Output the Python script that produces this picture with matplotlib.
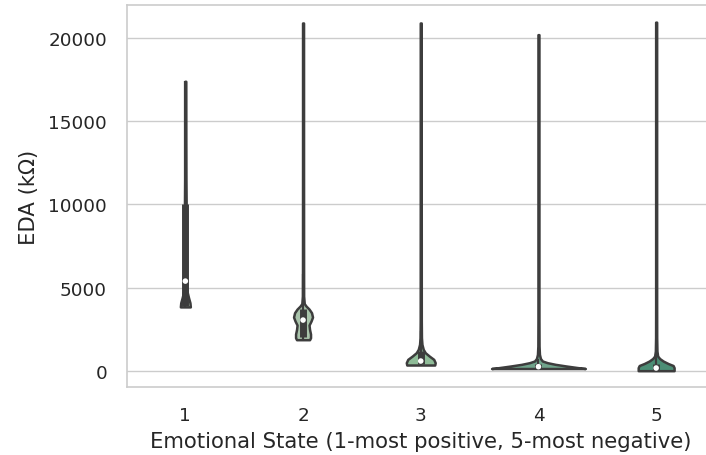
import numpy as np
import matplotlib.pyplot as plt

states = ["1", "2", "3", "4", "5"]

# EDA levels (kOhm) along each violin outline and the density drawn at each level
eda_1 = [3850, 4100, 4400, 4800, 5500, 8000, 10000, 11500, 14000, 17400]
dens_1 = [5.0, 4.6, 3.2, 1.6, 1.0, 0.9, 0.8, 0.6, 0.5, 0.45]

eda_2 = [1880, 2000, 2220, 2500, 2760, 3000, 3240, 3500, 3720, 3900, 4050, 4500, 6000, 12000, 20900]
dens_2 = [6.5, 7.5, 7.5, 6.5, 6.0, 8.0, 9.5, 8.5, 6.0, 3.0, 1.2, 0.6, 0.55, 0.5, 0.5]

eda_3 = [360, 500, 700, 900, 1100, 1300, 1600, 2000, 3000, 10000, 20900]
dens_3 = [14.0, 14.5, 13.0, 8.5, 4.5, 2.5, 1.2, 0.7, 0.55, 0.5, 0.5]

eda_4 = [150, 200, 300, 400, 500, 600, 750, 1000, 1500, 3000, 20200]
dens_4 = [47.0, 40.0, 28.0, 17.0, 9.0, 4.0, 2.0, 1.0, 0.6, 0.5, 0.5]

eda_5 = [20, 200, 330, 450, 600, 750, 900, 1200, 2000, 4000, 20950]
dens_5 = [18.0, 18.0, 17.0, 12.0, 7.0, 3.5, 1.5, 0.8, 0.55, 0.5, 0.5]

# box statistics per emotional state
q1 = [3900, 2050, 420, 190, 60]
medians = [5400, 3060, 600, 260, 180]
q3 = [10000, 3750, 1200, 420, 450]
whisk_lo = [3850, 1880, 360, 150, 20]
whisk_hi = [17400, 5800, 2400, 750, 1000]

fill_colors = ["#b6ccb4", "#a9c4ab", "#8fbc98", "#70a48b", "#4c8e75"]
edge = "#3d3d3d"

eda = [eda_1, eda_2, eda_3, eda_4, eda_5]
dens = [dens_1, dens_2, dens_3, dens_4, dens_5]

plt.rcParams["font.family"] = "DejaVu Sans"

fig = plt.figure(figsize=(7.06, 4.56), dpi=100)
ax = fig.add_axes([126.5 / 706, 1 - 388 / 456, (715 - 126.5) / 706, 382 / 456])

# one density unit ~ one pixel of half-width on this axis
px = 1.0 / 118.0
vpstats = []
widths = []
for i in range(len(states)):
    vals = np.array(dens[i]) * px
    vpstats.append(dict(coords=np.array(eda[i], dtype=float), vals=vals,
                        mean=medians[i], median=medians[i],
                        min=eda[i][0], max=eda[i][-1]))
    widths.append(2 * vals.max())

pos = np.arange(len(states))
parts = ax.violin(vpstats, positions=pos, widths=widths,
                  showmeans=False, showextrema=False, showmedians=False)
for body, c in zip(parts["bodies"], fill_colors):
    body.set_facecolor(c)
    body.set_edgecolor(edge)
    body.set_linewidth(1.8)
    body.set_alpha(1)
    body.set_zorder(2)

# inner box: whiskers, IQR bar and median dot
ax.vlines(pos, whisk_lo, whisk_hi, color=edge, lw=1.6, zorder=3)
ax.vlines(pos, q1, q3, color=edge, lw=5, zorder=3)
ax.scatter(pos, medians, s=16, color="white", edgecolor="none", zorder=4)

ax.set_xlim(-0.5, 4.5)
ax.set_ylim(-960, 21980)
ax.set_xticks(pos)
ax.set_xticklabels(states)
ax.set_yticks([0, 5000, 10000, 15000, 20000])

ax.set_axisbelow(True)
ax.yaxis.grid(True, color="#cccccc", lw=1.0)
ax.xaxis.grid(False)
for s in ax.spines.values():
    s.set_color("#cccccc")
    s.set_linewidth(1.2)
ax.tick_params(length=0, pad=14, colors="#262626", labelsize=13.2)

ax.set_xlabel("Emotional State (1-most positive, 5-most negative)", color="#262626",
              fontsize=15.2, labelpad=5)
ax.set_ylabel("EDA (k\u03a9)", color="#262626", fontsize=15.2, labelpad=7)

fig.savefig("out.png", dpi=100)
